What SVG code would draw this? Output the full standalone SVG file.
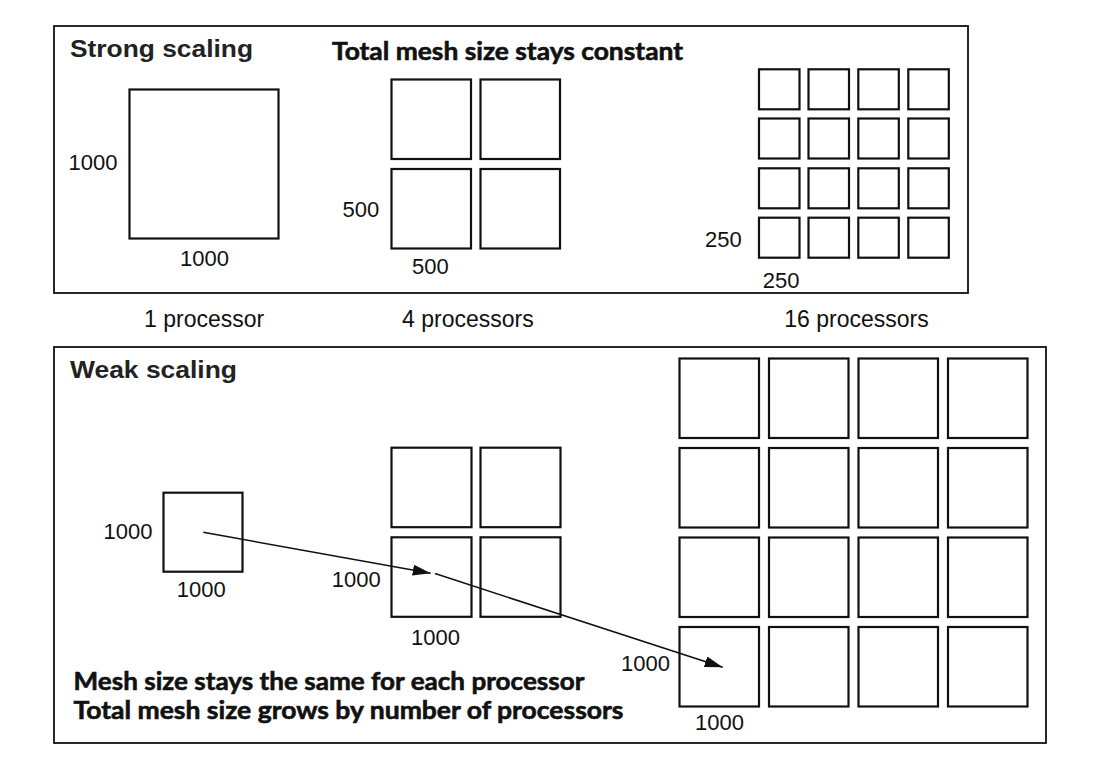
<svg xmlns="http://www.w3.org/2000/svg" width="1097" height="764" viewBox="0 0 1097 764">
<style>
.frame{fill:none;stroke:#111;stroke-width:1.8}
.cell{fill:#fff;stroke:#111;stroke-width:2.2}
.lbl{font-family:"Liberation Sans",Arial,sans-serif;font-size:22px;fill:#111}
.plbl{font-family:"Liberation Sans",Arial,sans-serif;font-size:23px;fill:#111}
.ttl{font-family:"Liberation Sans",Arial,sans-serif;font-size:24px;font-weight:bold;fill:#222}
.note{font-family:Lato,"Open Sans",sans-serif;font-size:25px;font-weight:bold;fill:#111;stroke:#111;stroke-width:0.6}
.conn{fill:none;stroke:#111;stroke-width:1.6}
</style>
<defs>
<marker id="ah" markerUnits="userSpaceOnUse" markerWidth="19" markerHeight="11" refX="18" refY="5.5" orient="auto">
<path d="M0,0 L18,5.5 L0,11 z" fill="#111"/>
</marker>
</defs>
<rect width="1097" height="764" fill="#fff"/>

<g id="strong-panel">
<rect class="frame" x="54" y="26" width="914" height="267"/>
<text class="ttl" x="70" y="57" textLength="183" lengthAdjust="spacingAndGlyphs">Strong scaling</text>
<text class="note" x="332" y="59.5" textLength="351" lengthAdjust="spacingAndGlyphs">Total mesh size stays constant</text>
</g>

<g id="strong-1">
<rect class="cell" x="129.5" y="89.5" width="149" height="149"/>
<text class="lbl" x="68.5" y="170">1000</text>
<text class="lbl" x="180" y="265.7">1000</text>
</g>

<g id="strong-4">
<rect class="cell" x="391.5" y="79.5" width="79.5" height="79.5"/>
<rect class="cell" x="480.5" y="79.5" width="79.5" height="79.5"/>
<rect class="cell" x="391.5" y="169" width="79.5" height="79.5"/>
<rect class="cell" x="480.5" y="169" width="79.5" height="79.5"/>
<text class="lbl" x="342.5" y="216.7">500</text>
<text class="lbl" x="412" y="274">500</text>
</g>

<g id="strong-16">
<rect class="cell" x="759" y="69.3" width="40.5" height="40"/>
<rect class="cell" x="808.5" y="69.3" width="40.5" height="40"/>
<rect class="cell" x="858.3" y="69.3" width="40.5" height="40"/>
<rect class="cell" x="908.3" y="69.3" width="40.5" height="40"/>
<rect class="cell" x="759" y="118.5" width="40.5" height="40"/>
<rect class="cell" x="808.5" y="118.5" width="40.5" height="40"/>
<rect class="cell" x="858.3" y="118.5" width="40.5" height="40"/>
<rect class="cell" x="908.3" y="118.5" width="40.5" height="40"/>
<rect class="cell" x="759" y="168.3" width="40.5" height="40"/>
<rect class="cell" x="808.5" y="168.3" width="40.5" height="40"/>
<rect class="cell" x="858.3" y="168.3" width="40.5" height="40"/>
<rect class="cell" x="908.3" y="168.3" width="40.5" height="40"/>
<rect class="cell" x="759" y="217.7" width="40.5" height="40"/>
<rect class="cell" x="808.5" y="217.7" width="40.5" height="40"/>
<rect class="cell" x="858.3" y="217.7" width="40.5" height="40"/>
<rect class="cell" x="908.3" y="217.7" width="40.5" height="40"/>
<text class="lbl" x="705" y="246.7">250</text>
<text class="lbl" x="762.7" y="287.7">250</text>
</g>

<g id="processor-labels">
<text class="plbl" x="144" y="326.7">1 processor</text>
<text class="plbl" x="402" y="326.7">4 processors</text>
<text class="plbl" x="784.3" y="326.7">16 processors</text>
</g>

<g id="weak-panel">
<rect class="frame" x="54" y="347" width="992" height="396"/>
<text class="ttl" x="70" y="378.3" textLength="167" lengthAdjust="spacingAndGlyphs">Weak scaling</text>
<text class="note" x="73.5" y="689.5" textLength="511" lengthAdjust="spacingAndGlyphs">Mesh size stays the same for each processor</text>
<text class="note" x="73.5" y="718.5" textLength="550" lengthAdjust="spacingAndGlyphs">Total mesh size grows by number of processors</text>
</g>

<g id="weak-1">
<rect class="cell" x="163.5" y="492.7" width="79" height="79"/>
<text class="lbl" x="103.6" y="539">1000</text>
<text class="lbl" x="176.7" y="597.3">1000</text>
</g>

<g id="weak-4">
<rect class="cell" x="391.5" y="447.7" width="80" height="79.5"/>
<rect class="cell" x="480.5" y="447.7" width="80" height="79.5"/>
<rect class="cell" x="391.5" y="537.3" width="80" height="79.5"/>
<rect class="cell" x="480.5" y="537.3" width="80" height="79.5"/>
<text class="lbl" x="331.7" y="587.3">1000</text>
<text class="lbl" x="411" y="645">1000</text>
</g>

<g id="weak-16">
<rect class="cell" x="679.5" y="358.5" width="79.5" height="79.5"/>
<rect class="cell" x="769" y="358.5" width="79.5" height="79.5"/>
<rect class="cell" x="858.5" y="358.5" width="79.5" height="79.5"/>
<rect class="cell" x="948" y="358.5" width="79.5" height="79.5"/>
<rect class="cell" x="679.5" y="448" width="79.5" height="79.5"/>
<rect class="cell" x="769" y="448" width="79.5" height="79.5"/>
<rect class="cell" x="858.5" y="448" width="79.5" height="79.5"/>
<rect class="cell" x="948" y="448" width="79.5" height="79.5"/>
<rect class="cell" x="679.5" y="537.5" width="79.5" height="79.5"/>
<rect class="cell" x="769" y="537.5" width="79.5" height="79.5"/>
<rect class="cell" x="858.5" y="537.5" width="79.5" height="79.5"/>
<rect class="cell" x="948" y="537.5" width="79.5" height="79.5"/>
<rect class="cell" x="679.5" y="627" width="79.5" height="79.5"/>
<rect class="cell" x="769" y="627" width="79.5" height="79.5"/>
<rect class="cell" x="858.5" y="627" width="79.5" height="79.5"/>
<rect class="cell" x="948" y="627" width="79.5" height="79.5"/>
<text class="lbl" x="621" y="670.7">1000</text>
<text class="lbl" x="695" y="730">1000</text>
</g>

<g id="connectors">
<line class="conn" x1="203.3" y1="532.3" x2="430.7" y2="573.3" marker-end="url(#ah)"/>
<line class="conn" x1="435" y1="573.6" x2="722.7" y2="667.3" marker-end="url(#ah)"/>
</g>
</svg>
